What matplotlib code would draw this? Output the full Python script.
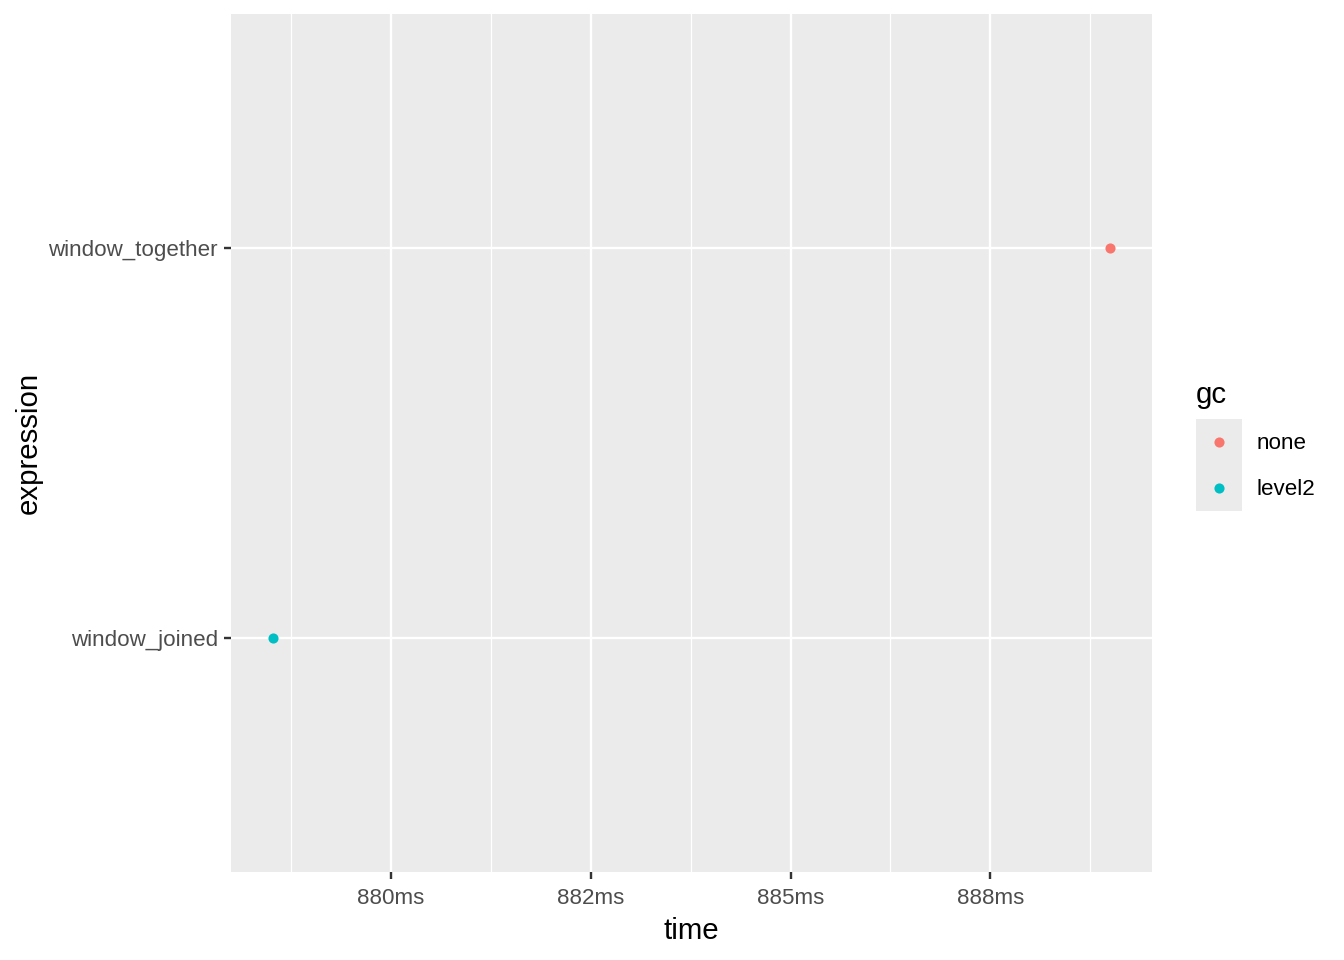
import matplotlib
matplotlib.use("Agg")
import matplotlib.pyplot as plt
from matplotlib.patches import Rectangle
from matplotlib.lines import Line2D

## data
expressions = ["window_joined", "window_together"]
times_ms = [878.52, 889.0]
gc_levels = ["level2", "none"]
legend_order = ["none", "level2"]
gc_colors = {"none": "#F8766D", "level2": "#00BFC4"}

x_major = [880.0, 882.5, 885.0, 887.5]
x_labels = ["880ms", "882ms", "885ms", "888ms"]
x_minor = [878.75, 881.25, 883.75, 886.25, 888.75]

plt.rcParams["font.family"] = ["Liberation Sans", "DejaVu Sans"]


class GreyKey:
    # ggplot style key: grey square with the point in the middle
    def legend_artist(self, legend, orig_handle, fontsize, handlebox):
        x0, y0 = handlebox.xdescent, handlebox.ydescent
        w, h = handlebox.width, handlebox.height
        tr = handlebox.get_transform()
        rect = Rectangle((-x0, -y0), w, h, facecolor="#EBEBEB", edgecolor="none", transform=tr)
        dot = Line2D([-x0 + w / 2], [-y0 + h / 2], marker="o", linestyle="none",
                     color=orig_handle.get_color(), markersize=orig_handle.get_markersize(),
                     markeredgewidth=0, transform=tr)
        handlebox.add_artist(rect)
        handlebox.add_artist(dot)
        return rect


fig = plt.figure(figsize=(7, 5), dpi=192)
ax = fig.add_axes([231 / 1344, 1 - 872 / 960, (1152 - 231) / 1344, (872 - 14) / 960])
ax.set_facecolor("#EBEBEB")
for s in ax.spines.values():
    s.set_visible(False)

# grid
ax.set_xticks(x_major)
ax.set_xticklabels(x_labels)
ax.set_xticks(x_minor, minor=True)
ypos = list(range(1, len(expressions) + 1))
ax.set_yticks(ypos)
ax.set_yticklabels(expressions)
ax.grid(which="major", color="white", linewidth=0.9)
ax.grid(which="minor", axis="x", color="white", linewidth=0.45)
ax.set_axisbelow(True)

ax.tick_params(which="major", length=2.75, width=0.9, color="#333333",
               labelcolor="#4D4D4D", labelsize=8.4)
ax.tick_params(axis="x", which="major", pad=3.3)
ax.tick_params(axis="y", which="major", pad=2.2)
ax.tick_params(which="minor", length=0)

# points
for e, t, g in zip(expressions, times_ms, gc_levels):
    ax.plot(t, expressions.index(e) + 1, "o", color=gc_colors[g], markersize=3.8,
            markeredgewidth=0, zorder=3)

lo, hi = min(times_ms), max(times_ms)
pad = (hi - lo) * 0.05
ax.set_xlim(lo - pad, hi + pad)
ax.set_ylim(0.4, len(expressions) + 0.6)

ax.set_xlabel("time", fontsize=11, labelpad=2.9)
ax.set_ylabel("expression", fontsize=11, labelpad=2.1)

# legend
handles = [Line2D([], [], marker="o", linestyle="none", color=gc_colors[g], markersize=3.8)
           for g in legend_order]
leg_fs = 8.4
key_pt = 17.28
hh = (key_pt / leg_fs - 0.245) / 0.65
leg = fig.legend(handles, legend_order, title="gc", loc="lower left",
                 bbox_to_anchor=(1196 / 1344, 1 - 511 / 960),
                 handler_map={Line2D: GreyKey()},
                 frameon=False, fontsize=leg_fs, title_fontsize=11,
                 handlelength=key_pt / leg_fs, handleheight=hh, labelspacing=0,
                 handletextpad=0.65, borderpad=0, borderaxespad=0,
                 alignment="left")
leg._legend_box.sep = 3.75

fig.savefig("out.png", dpi=192, facecolor="white")
